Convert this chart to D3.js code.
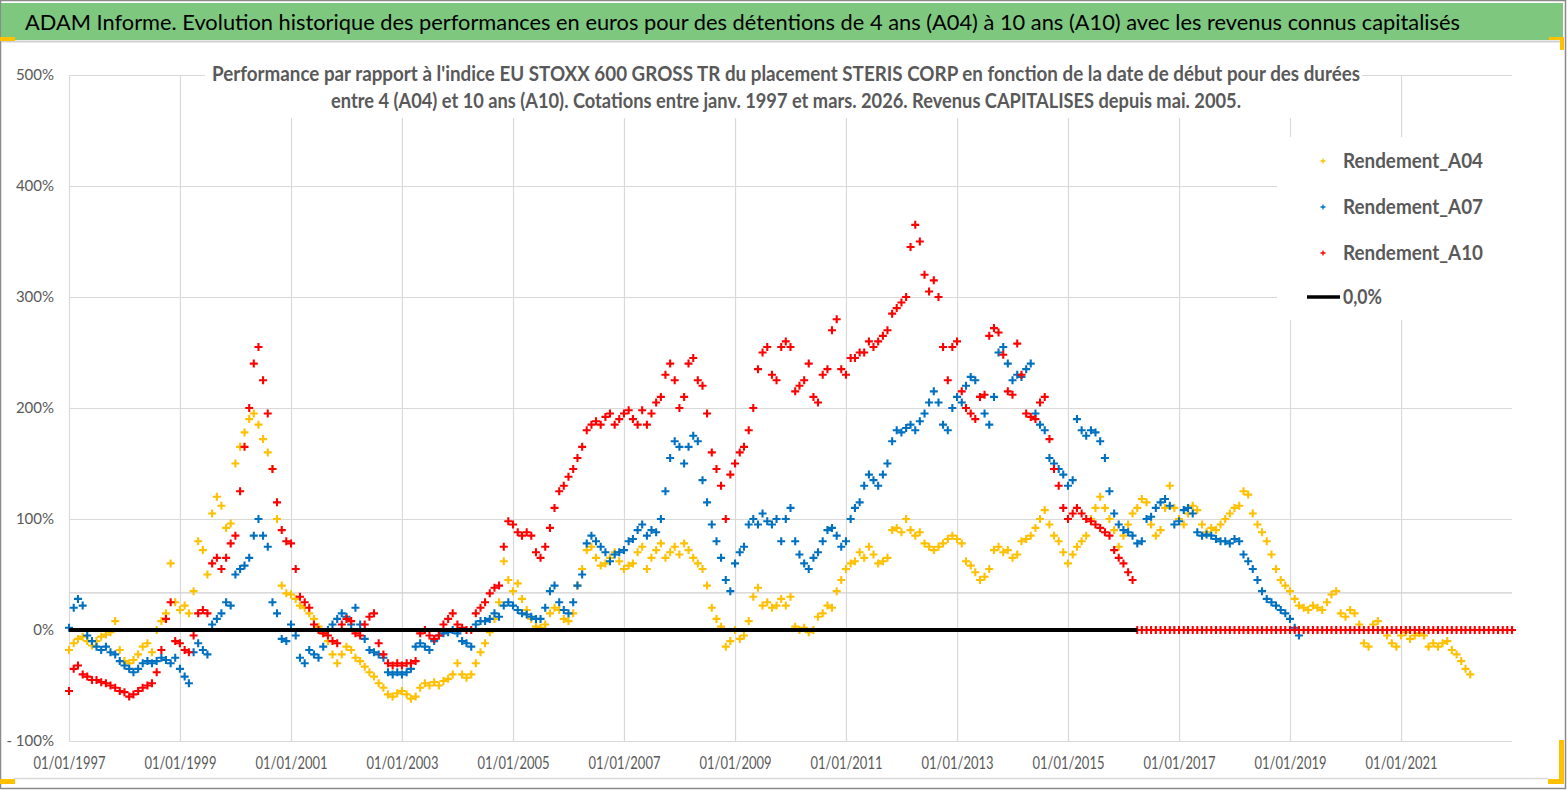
<!DOCTYPE html>
<html lang="fr">
<head>
<meta charset="utf-8">
<title>ADAM Informe - STERIS CORP</title>
<script src="https://cdn.jsdelivr.net/npm/d3@7"></script>
<style>
  body { margin: 0; background: #fff; }
  svg { display: block; font-family: Lato, "Open Sans", sans-serif; }
</style>
</head>
<body>
<script>
// monthly start dates, first value = janv. 1997
var firstMonth = new Date(1997, 0, 1);

// Rendement_A04 (%), janv. 1997 -> avr. 2022
var a04 = [
  -18, -12, -8, -6, -10, -14, -10, -6, -4, -2, 8, -18,        // 1997
  -28, -30, -27, -22, -15, -12, -20, 0, 8, 15, 60, 25,        // 1998
  18, 22, 15, 35, 80, 72, 50, 105, 120, 112, 92, 96,          // 1999
  150, 165, 178, 190, 195, 185, 172, 160, 145, 100, 40, 33,   // 2000
  32, 28, 22, 20, 15, 10, 3, -3, -10, -22, -30, -22,          // 2001
  -15, -18, -25, -28, -33, -38, -42, -48, -52, -58, -60, -57, // 2002
  -55, -58, -62, -60, -52, -48, -50, -47, -50, -46, -44, -40, // 2003
  -30, -40, -43, -40, -30, -20, -12, -2, 10, 25, 62, 45,      // 2004
  35, 42, 28, 18, 10, 3, 2, 5, 15, 20, 18, 10,                // 2005
  8, 15, 40, 55, 72, 75, 65, 58, 60, 65, 70, 62,              // 2006
  55, 58, 60, 70, 75, 55, 65, 72, 78, 65, 70, 75,             // 2007
  68, 78, 72, 65, 60, 55, 40, 20, 10, 3, -15, -10,            // 2008
  0, -8, -5, 8, 30, 38, 22, 25, 20, 22, 28, 22,               // 2009
  30, 3, 0, 2, -2, 0, 12, 15, 22, 20, 35, 45,                 // 2010
  55, 60, 62, 70, 65, 75, 68, 60, 62, 65, 90, 92,             // 2011
  88, 100, 90, 85, 88, 78, 75, 72, 75, 78, 82, 85,            // 2012
  82, 78, 62, 58, 52, 45, 48, 55, 72, 75, 70, 72,             // 2013
  65, 68, 80, 82, 85, 92, 100, 108, 95, 85, 80, 70,           // 2014
  60, 68, 75, 80, 85, 100, 110, 120, 110, 100, 90, 75,        // 2015
  85, 95, 105, 110, 118, 115, 95, 85, 90, 110, 130, 110,      // 2016
  100, 95, 105, 112, 108, 95, 88, 92, 90, 95, 100, 105,       // 2017
  110, 112, 125, 122, 105, 95, 88, 80, 68, 55, 45, 40,        // 2018
  35, 28, 22, 20, 18, 22, 20, 18, 25, 32, 35, 15,             // 2019
  12, 18, 15, 5, -12, -15, 5, 8, 0, -5, -12, -15,             // 2020
  -5, -2, -8, -5, -3, -5, -15, -12, -15, -12, -10, -18,       // 2021
  -22, -28, -35, -40                                          // 2022
];

// Rendement_A07 (%), janv. 1997 -> mars 2019
var a07 = [
  2, 20, 28, 22, -5, -10, -15, -18, -15, -20, -22, -28,       // 1997
  -32, -35, -38, -35, -30, -28, -30, -28, -25, -27, -30, -25, // 1998
  -35, -42, -48, -20, -12, -18, -22, 5, 10, 15, 25, 22,       // 1999
  50, 55, 58, 65, 85, 100, 85, 75, 25, 15, -8, -10,           // 2000
  5, -5, -25, -30, -18, -22, -25, -15, 0, 5, 10, 15,          // 2001
  12, 5, 20, 5, -8, -18, -20, -22, -25, -38, -40, -38,        // 2002
  -40, -38, -35, -15, -12, -15, -18, -10, -5, -3, -2, 0,      // 2003
  -3, -10, -12, -15, 5, 8, 8, 10, 15, 12, 22, 25,             // 2004
  22, 18, 15, 14, 12, 10, 10, 20, 35, 40, 25, 18,             // 2005
  15, 25, 40, 50, 78, 85, 80, 75, 70, 62, 68, 70,             // 2006
  72, 80, 82, 90, 95, 85, 90, 88, 100, 125, 155, 170,         // 2007
  165, 150, 165, 175, 170, 135, 115, 95, 80, 65, 45, 35,      // 2008
  60, 70, 75, 95, 100, 95, 105, 98, 95, 100, 80, 100,         // 2009
  110, 80, 68, 60, 55, 65, 70, 80, 90, 92, 85, 75,            // 2010
  80, 100, 110, 115, 130, 140, 135, 130, 140, 150, 170, 180,  // 2011
  178, 182, 185, 180, 188, 195, 205, 215, 205, 185, 180, 200, // 2012
  210, 205, 220, 228, 225, 210, 195, 185, 210, 250, 255, 240, // 2013
  225, 230, 228, 235, 240, 195, 185, 180, 155, 150, 145, 140, // 2014
  130, 135, 190, 180, 175, 180, 178, 170, 155, 125, 105, 95,  // 2015
  90, 88, 85, 78, 80, 100, 102, 110, 115, 118, 112, 95,       // 2016
  98, 108, 110, 105, 88, 85, 86, 85, 82, 80, 80, 78,          // 2017
  82, 80, 68, 62, 55, 45, 35, 28, 25, 22, 18, 15,             // 2018
  10, 2, -5                                                   // 2019
];

// Rendement_A10 (%), janv. 1997 -> mars 2016, then 0 up to janv. 2023
var a10 = [
  -55, -35, -32, -40, -42, -45, -45, -47, -48, -50, -52, -55, // 1997
  -56, -60, -58, -55, -52, -50, -48, -38, -18, 10, 25, -10,   // 1998
  -12, -18, -20, -5, 15, 18, 15, 60, 65, 55, 65, 78,          // 1999
  85, 125, 165, 200, 240, 255, 225, 195, 145, 115, 90, 80,    // 2000
  78, 55, 30, 25, 20, 5, 0, -3, -5, -10, -12, 5,              // 2001
  10, 8, -3, -5, 5, 12, 15, -12, -22, -30, -32, -30,          // 2002
  -32, -30, -30, -28, -3, 0, -5, -8, -5, 5, 10, 15,           // 2003
  5, 2, 0, 0, 15, 20, 25, 33, 38, 40, 75, 98,                 // 2004
  95, 88, 85, 88, 85, 70, 65, 75, 92, 110, 125, 130,          // 2005
  138, 145, 155, 165, 180, 185, 188, 185, 192, 195, 185, 190, // 2006
  195, 198, 190, 185, 198, 185, 195, 205, 210, 230, 240, 225, // 2007
  200, 210, 240, 245, 225, 220, 195, 160, 145, 130, 100, 140, // 2008
  150, 160, 165, 180, 200, 235, 250, 255, 230, 225, 255, 260, // 2009
  255, 215, 220, 225, 240, 210, 205, 230, 235, 270, 280, 235, // 2010
  230, 245, 245, 250, 250, 260, 255, 260, 265, 270, 285, 290, // 2011
  295, 300, 345, 365, 350, 320, 305, 315, 300, 255, 225, 255, // 2012
  260, 215, 200, 195, 190, 210, 212, 265, 272, 268, 248, 215, // 2013
  212, 258, 230, 195, 192, 190, 205, 210, 172, 145, 130, 110, // 2014
  100, 105, 110, 105, 100, 98, 95, 92, 88, 85, 72, 65,        // 2015
  60, 52, 45, 0, 0, 0, 0, 0, 0, 0, 0, 0,                      // 2016
  0, 0, 0, 0, 0, 0, 0, 0, 0, 0, 0, 0,                         // 2017
  0, 0, 0, 0, 0, 0, 0, 0, 0, 0, 0, 0,                         // 2018
  0, 0, 0, 0, 0, 0, 0, 0, 0, 0, 0, 0,                         // 2019
  0, 0, 0, 0, 0, 0, 0, 0, 0, 0, 0, 0,                         // 2020
  0, 0, 0, 0, 0, 0, 0, 0, 0, 0, 0, 0,                         // 2021
  0, 0, 0, 0, 0, 0, 0, 0, 0, 0, 0, 0,                         // 2022
  0                                                           // 2023
];

var seriesNames = ["Rendement_A04", "Rendement_A07", "Rendement_A10"];
var seriesColors = ["#FFC000", "#0070C0", "#FF0000"];
var yTicks = [-100, 0, 100, 200, 300, 400, 500];
var xTickYears = [1997, 1999, 2001, 2003, 2005, 2007, 2009, 2011, 2013, 2015, 2017, 2019, 2021];
var zeroLineLabel = "0,0%";
var zeroLineEnd = new Date(2016, 3, 1);
var extraRule = 33.5; // grey rule drawn across the plot

var title = "ADAM Informe. Evolution historique des performances en euros pour des détentions de 4 ans (A04) à 10 ans (A10) avec les revenus connus capitalisés";
var subtitle = [
  "Performance par rapport à l'indice EU STOXX 600 GROSS TR  du placement STERIS CORP en fonction de la date de début pour des durées",
  "entre 4 (A04) et 10 ans (A10). Cotations entre janv. 1997 et mars. 2026. Revenus CAPITALISES depuis mai. 2005."
];

var W = 1567, H = 790;
var plotLeft = 69, plotRight = 1512, plotTop = 75, plotBottom = 741;
var grid = "#d9d9d9", labelGrey = "#595959";

var svg = d3.select("body").append("svg")
  .attr("width", W)
  .attr("height", H);

// frame and title bar
svg.append("rect").attr("x", 0.5).attr("y", 0.5).attr("width", 1565).attr("height", 788)
  .attr("fill", "#fff").attr("stroke", "#8a8a8a").attr("stroke-width", 1.5);
svg.append("rect").attr("x", 1).attr("y", 3).attr("width", 1562).attr("height", 37)
  .attr("fill", "#7DC77F");
svg.append("line").attr("x1", 1).attr("x2", 1563).attr("y1", 41.5).attr("y2", 41.5)
  .attr("stroke", "#d0d0d0").attr("stroke-width", 2);
svg.append("line").attr("x1", 14).attr("x2", 1548).attr("y1", 778.5).attr("y2", 778.5)
  .attr("stroke", "#d9d9d9").attr("stroke-width", 1.5);

// yellow selection handles
var handles = [[0, 37, 15, 4], [1549, 37, 15, 3], [1560, 37, 4, 13], [0, 779, 15, 5], [1548, 779, 16, 5], [1559, 740, 5, 44]];
svg.selectAll("rect.handle").data(handles).join("rect")
  .attr("class", "handle")
  .attr("x", d => d[0]).attr("y", d => d[1]).attr("width", d => d[2]).attr("height", d => d[3])
  .attr("fill", "#FFC000");

svg.append("text")
  .attr("x", 25).attr("y", 30)
  .attr("textLength", 1435).attr("lengthAdjust", "spacingAndGlyphs")
  .attr("font-size", 22).attr("fill", "#000")
  .text(title);

var x = d3.scaleTime()
  .domain([new Date(1997, 0, 1), new Date(2023, 0, 1)])
  .range([plotLeft, plotRight]);
var y = d3.scaleLinear()
  .domain([-100, 500])
  .range([plotBottom, plotTop]);

var xTicks = xTickYears.map(function(yr) { return new Date(yr, 0, 1); });

// gridlines
svg.append("g")
  .selectAll("line").data(yTicks).join("line")
  .attr("x1", plotLeft).attr("x2", plotRight)
  .attr("y1", d => y(d) + 0.5).attr("y2", d => y(d) + 0.5)
  .attr("stroke", grid).attr("stroke-width", 1.2);
svg.append("g")
  .selectAll("line").data(xTicks).join("line")
  .attr("x1", d => x(d) + 0.5).attr("x2", d => x(d) + 0.5)
  .attr("y1", plotTop).attr("y2", plotBottom)
  .attr("stroke", grid).attr("stroke-width", 1.2);
svg.append("line")
  .attr("x1", plotLeft).attr("x2", plotRight)
  .attr("y1", y(extraRule)).attr("y2", y(extraRule))
  .attr("stroke", "#cfcfcf").attr("stroke-width", 1.2);

// axes labels
var xAxis = d3.axisBottom(x)
  .tickValues(xTicks)
  .tickFormat(d3.timeFormat("%d/%m/%Y"))
  .tickSize(0)
  .tickPadding(16);
var gx = svg.append("g").attr("transform", "translate(0," + plotBottom + ")").call(xAxis);
gx.select(".domain").remove();
gx.selectAll("text")
  .attr("font-family", "Lato, sans-serif")
  .attr("font-size", 16.5)
  .attr("fill", labelGrey)
  .attr("textLength", 72).attr("lengthAdjust", "spacingAndGlyphs");

var yAxis = d3.axisLeft(y)
  .tickValues(yTicks)
  .tickFormat(function(d) { return d < 0 ? "- " + Math.abs(d) + "%" : d + "%"; })
  .tickSize(0)
  .tickPadding(15);
var gy = svg.append("g").attr("transform", "translate(" + plotLeft + ",0)").call(yAxis);
gy.select(".domain").remove();
gy.selectAll("text")
  .attr("font-family", "Lato, sans-serif")
  .attr("font-size", 15)
  .attr("fill", labelGrey);

// white boxes of chart title and legend, over the grid
svg.append("rect").attr("x", 205).attr("y", 58).attr("width", 1157).attr("height", 60).attr("fill", "#fff");
svg.append("rect").attr("x", 1277).attr("y", 137).attr("width", 236).attr("height", 183).attr("fill", "#fff");

svg.selectAll("text.sub").data(subtitle).join("text")
  .attr("class", "sub")
  .attr("x", 786).attr("y", (d, i) => 81 + i * 27)
  .attr("text-anchor", "middle")
  .attr("textLength", (d, i) => i === 0 ? 1148 : 910)
  .attr("lengthAdjust", "spacingAndGlyphs")
  .attr("font-size", 20).attr("font-weight", "bold")
  .attr("fill", labelGrey)
  .text(d => d);

// markers
var plus = "M-4,0H4M0,-4V4";
var allSeries = [a04, a07, a10];
allSeries.forEach(function(values, k) {
  var pts = values.map(function(v, i) {
    return { date: d3.timeMonth.offset(firstMonth, i), value: v };
  });
  svg.append("g")
    .attr("fill", "none")
    .attr("stroke", seriesColors[k])
    .attr("stroke-width", 2.1)
    .selectAll("path").data(pts).join("path")
    .attr("d", plus)
    .attr("transform", d => "translate(" + x(d.date) + "," + y(d.value) + ")");
});

// 0% line
svg.append("line")
  .attr("x1", x(firstMonth)).attr("x2", x(zeroLineEnd))
  .attr("y1", y(0)).attr("y2", y(0))
  .attr("stroke", "#000").attr("stroke-width", 4);

// legend
var legendY = [161, 207, 253];
var lg = svg.append("g");
seriesNames.forEach(function(name, k) {
  lg.append("path")
    .attr("d", "M-2.5,0H2.5M0,-2.5V2.5")
    .attr("transform", "translate(1323," + legendY[k] + ")")
    .attr("stroke", seriesColors[k]).attr("stroke-width", 1.3).attr("fill", "none");
  lg.append("text")
    .attr("x", 1343).attr("y", legendY[k] + 7)
    .attr("textLength", 140).attr("lengthAdjust", "spacingAndGlyphs")
    .attr("font-size", 20).attr("font-weight", "bold")
    .attr("fill", labelGrey)
    .text(name);
});
lg.append("line")
  .attr("x1", 1307).attr("x2", 1340).attr("y1", 297).attr("y2", 297)
  .attr("stroke", "#000").attr("stroke-width", 3.5);
lg.append("text")
  .attr("x", 1343).attr("y", 304)
  .attr("textLength", 39).attr("lengthAdjust", "spacingAndGlyphs")
  .attr("font-size", 20).attr("font-weight", "bold")
  .attr("fill", labelGrey)
  .text(zeroLineLabel);
</script>
</body>
</html>
